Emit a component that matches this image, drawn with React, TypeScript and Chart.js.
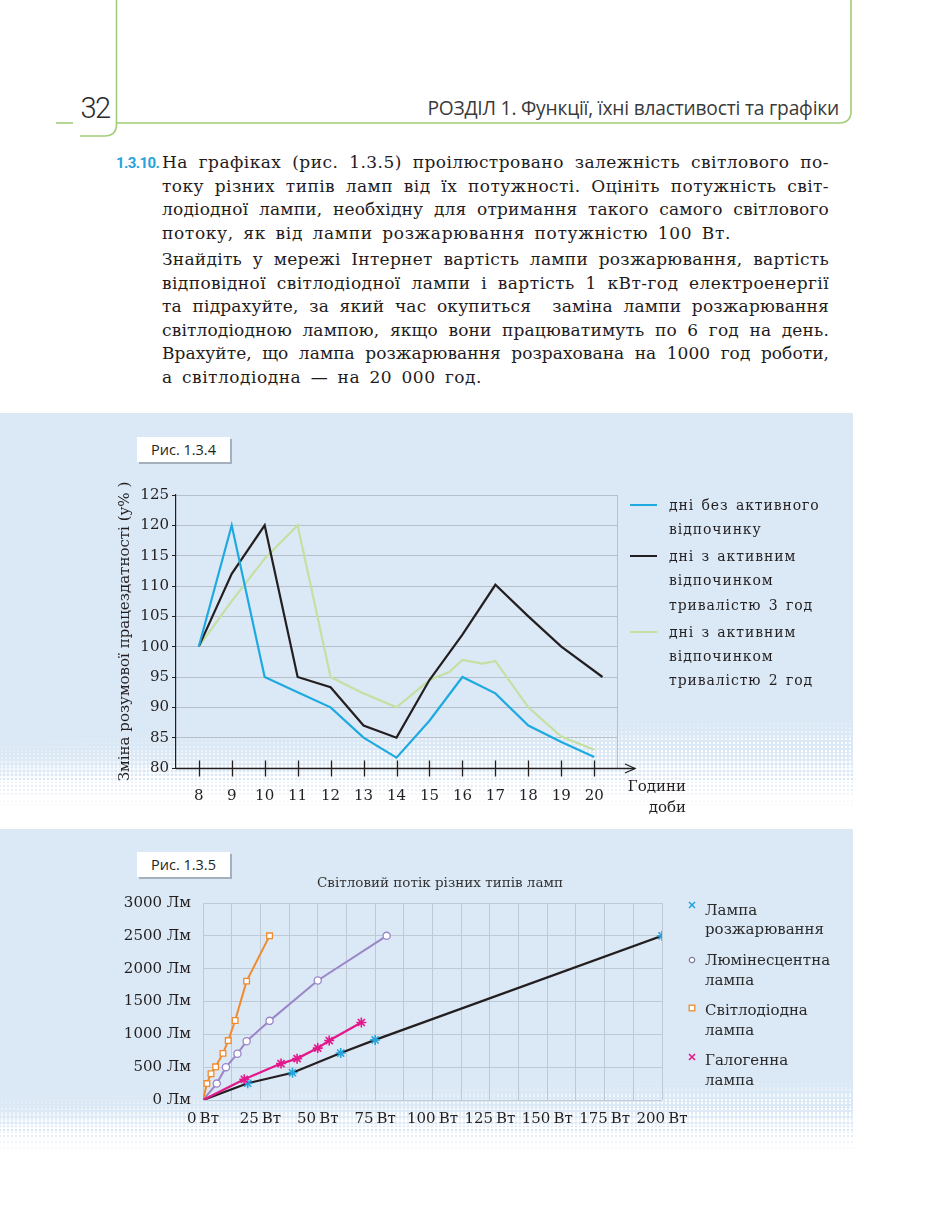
import React, { useEffect, useLayoutEffect, useRef, useState } from "react";
import { Chart, registerables } from "chart.js";

Chart.register(...registerables);

// ---------- Рис. 1.3.4 data ----------
const hourTicks = [8, 9, 10, 11, 12, 13, 14, 15, 16, 17, 18, 19, 20];
const noRestHours = [8, 9, 10, 11, 12, 13, 14, 15, 16, 17, 18, 19, 20];
const noRestValues = [100, 120, 95, 92.5, 90, 85, 81.7, 87.8, 95, 92.3, 87, 84.3, 81.8];
const rest3Hours = [8, 9, 10, 11, 12, 13, 14, 15, 16, 17, 18, 19, 20.25];
const rest3Values = [100, 112, 120, 95, 93.3, 87, 85, 94.5, 102, 110.2, 105, 100, 95];
const rest2Hours = [8, 9, 10, 11, 12, 13, 14, 15, 15.6, 16, 16.6, 17, 18, 19, 20];
const rest2Values = [100, 107.5, 114.5, 120, 95, 92.3, 90, 94.5, 95.8, 97.8, 97.2, 97.6, 90, 85.2, 83];
const fig4Legend = [
  ["дні без активного", "відпочинку"],
  ["дні з активним", "відпочинком", "тривалістю 3 год"],
  ["дні з активним", "відпочинком", "тривалістю 2 год"],
];
const fig4YTitle = "Зміна розумової працездатності (у% )";

// ---------- Рис. 1.3.5 data ----------
const incandescentW = [0, 19.5, 39, 60, 75, 200];
const incandescentLm = [0, 255, 415, 715, 915, 2500];
const fluorescentW = [0, 6, 10, 15, 19, 29, 50, 80];
const fluorescentLm = [0, 250, 500, 705, 895, 1205, 1820, 2500];
const ledW = [0, 1.7, 3.5, 5.5, 8.7, 11, 14, 19, 29];
const ledLm = [0, 250, 400, 505, 710, 905, 1210, 1810, 2500];
const halogenW = [0, 18, 34, 41, 50, 55, 69];
const halogenLm = [0, 315, 555, 630, 790, 905, 1180];
const fig5Legend = [
  ["Лампа", "розжарювання"],
  ["Люмінесцентна", "лампа"],
  ["Світлодіодна", "лампа"],
  ["Галогенна", "лампа"],
];
const fig5Title = "Світловий потік різних типів ламп";

const textLines = [
  "На графіках (рис. 1.3.5) проілюстровано залежність світлового по-",
  "току різних типів ламп від їх потужності. Оцініть потужність світ-",
  "лодіодної лампи, необхідну для отримання такого самого світлового",
  "потоку, як від лампи розжарювання потужністю 100 Вт.",
  "Знайдіть у мережі Інтернет вартість лампи розжарювання, вартість",
  "відповідної світлодіодної лампи і вартість 1 кВт-год електроенергії",
  "та підрахуйте, за який час окупиться  заміна лампи розжарювання",
  "світлодіодною лампою, якщо вони працюватимуть по 6 год на день.",
  "Врахуйте, що лампа розжарювання розрахована на 1000 год роботи,",
  "а світлодіодна — на 20 000 год.",
];
const lineCenters = [163, 186.5, 210, 233.5, 260, 283.5, 307, 330.5, 354, 377.5];
const justified = [true, true, true, false, true, true, true, true, true, false];
const lineTargets = [667, 667, 667, 569, 667, 667, 667, 667, 667, 320];

const SERIF = "'DejaVu Serif', 'Liberation Serif', serif";
const SANS = "'Open Sans', 'Noto Sans', sans-serif";
const INK = "#231f20";
const PANEL = "rgb(219,232,245)";
const GRID1 = "rgb(182,192,203)";
const GRID2 = "rgb(190,201,214)";
const BLUE = "#1eaae1";
const GREEN_L = "#c4e0a2";
const PURPLE = "#9a86c8";
const ORANGE = "#f08a2d";
const MAGENTA = "#e3188c";
const MARK_BLUE = "#27a4dc";
const TEXT_W = 667;

function Halftone({ top, height, angle }: { top: number; height: number; angle: number }) {
  const bands = 14;
  const items = [];
  for (let i = 0; i < bands; i++) {
    const r = 0.3 + (i / (bands - 1)) * 2.15;
    items.push(
      <div
        key={i}
        style={{
          position: "absolute",
          left: 0,
          right: 0,
          top: (i * height) / bands,
          height: height / bands + 0.6,
          backgroundImage: `radial-gradient(circle, #ffffff ${r}px, rgba(255,255,255,0) ${r + 0.7}px)`,
          backgroundSize: "4px 4px",
        }}
      />
    );
  }
  const mask = `linear-gradient(${angle}deg, transparent 0%, transparent 12%, #000 40%)`;
  return (
    <div
      style={{
        position: "absolute",
        left: 0,
        width: 853,
        top,
        height,
        overflow: "hidden",
        WebkitMaskImage: mask,
        maskImage: mask,
      }}
    >
      {items}
    </div>
  );
}

function FigLabel({ left, top, text }: { left: number; top: number; text: string }) {
  return (
    <div
      style={{
        position: "absolute",
        left,
        top,
        width: 93,
        height: 25,
        background: "#fff",
        boxShadow: "2px 2px 0 rgba(120,130,140,0.55)",
        fontFamily: SANS,
        fontSize: 14.5,
        color: INK,
        lineHeight: "25px",
        textAlign: "center",
      }}
    >
      {text}
    </div>
  );
}

function Paragraph() {
  const refs = useRef<(HTMLSpanElement | null)[]>([]);
  const [ls, setLs] = useState<number[] | null>(null);
  useLayoutEffect(() => {
    const widths = refs.current.map((el) => (el ? el.getBoundingClientRect().width : 0));
    const per = textLines.map((t, i) => {
      const spaces = (t.match(/ /g) || []).length;
      const slack = justified[i] ? spaces * 1.5 : 0;
      const v = (lineTargets[i] - slack - widths[i]) / t.length;
      return Math.max(-1.2, Math.min(2.5, v));
    });
    setLs(per);
  }, []);
  return (
    <>
      {textLines.map((t, i) => {
        const just = ls ? justified[i] : false;
        return (
          <div
            key={i}
            style={{
              position: "absolute",
              left: 162,
              width: TEXT_W,
              top: lineCenters[i] - 13,
              height: 24,
              fontFamily: SERIF,
              fontSize: 17,
              lineHeight: "24px",
              whiteSpace: "pre",
              wordSpacing: 3.5,
              textAlign: just ? "justify" : "left",
              textAlignLast: just ? "justify" : "left",
              letterSpacing: ls ? ls[i] : 0,
              color: "#1f1b1c",
            }}
          >
            {ls ? (
              t
            ) : (
              <span
                ref={(el) => {
                  refs.current[i] = el;
                }}
              >
                {t}
              </span>
            )}
          </div>
        );
      })}
    </>
  );
}

function Chart1() {
  const ref = useRef<HTMLCanvasElement>(null);
  useEffect(() => {
    const decor = {
      id: "axisDecor",
      afterDraw(chart: any) {
        const { ctx, chartArea: a, scales } = chart;
        const xs = scales.x;
        ctx.save();
        const rx = Math.round(a.right) + 0.5;
        ctx.strokeStyle = GRID1;
        ctx.lineWidth = 1;
        ctx.beginPath();
        ctx.moveTo(rx, a.top);
        ctx.lineTo(rx, a.bottom);
        ctx.stroke();
        const yb = Math.round(a.bottom) + 0.5;
        ctx.strokeStyle = INK;
        ctx.lineWidth = 1.3;
        ctx.beginPath();
        ctx.moveTo(a.left, yb);
        ctx.lineTo(a.right + 18, yb);
        ctx.stroke();
        ctx.beginPath();
        ctx.moveTo(a.right + 8, yb - 4.5);
        ctx.lineTo(a.right + 18, yb);
        ctx.lineTo(a.right + 8, yb + 4.5);
        ctx.stroke();
        for (const h of hourTicks) {
          const px = Math.round(xs.getPixelForValue(h)) + 0.5;
          ctx.beginPath();
          ctx.moveTo(px, yb - 8);
          ctx.lineTo(px, yb + 8);
          ctx.stroke();
        }
        ctx.restore();
      },
    };
    const mk = (xs: number[], ys: number[]) => xs.map((x, i) => ({ x, y: ys[i] }));
    const chart = new Chart(ref.current as HTMLCanvasElement, {
      type: "line",
      data: {
        datasets: [
          { label: fig4Legend[0].join(" "), data: mk(noRestHours, noRestValues), borderColor: BLUE, borderWidth: 2.2, pointRadius: 0, tension: 0 },
          { label: fig4Legend[1].join(" "), data: mk(rest3Hours, rest3Values), borderColor: INK, borderWidth: 2.2, pointRadius: 0, tension: 0 },
          { label: fig4Legend[2].join(" "), data: mk(rest2Hours, rest2Values), borderColor: GREEN_L, borderWidth: 2.2, pointRadius: 0, tension: 0, order: 5 },
        ],
      },
      options: {
        animation: false,
        responsive: false,
        maintainAspectRatio: false,
        layout: { padding: { top: 15, right: 83, left: 0, bottom: 0 } },
        plugins: { legend: { display: false }, tooltip: { enabled: false }, title: { display: false } },
        scales: {
          x: {
            type: "linear",
            min: 7.31,
            max: 20.69,
            afterBuildTicks: (s: any) => {
              s.ticks = hourTicks.map((v) => ({ value: v }));
            },
            afterFit: (s: any) => {
              s.height = 52;
            },
            grid: { display: false },
            border: { display: false },
            ticks: {
              font: { family: SERIF, size: 15 },
              color: INK,
              padding: 11,
              maxRotation: 0,
              autoSkip: false,
              callback: (v: any) => String(v),
            },
          },
          y: {
            min: 80,
            max: 125,
            ticks: { stepSize: 5, font: { family: SERIF, size: 15 }, color: INK, padding: 3 },
            grid: { color: GRID1, tickColor: INK, tickLength: 4 },
            border: { color: INK, width: 1.2 },
            afterFit: (s: any) => {
              s.width = 76;
            },
            title: {
              display: true,
              text: fig4YTitle,
              font: { family: SERIF, size: 15 },
              color: INK,
              padding: { top: 16, bottom: 0 },
            },
          },
        },
      },
      plugins: [decor],
    } as any);
    return () => chart.destroy();
  }, []);
  return (
    <canvas
      ref={ref}
      width={600}
      height={340}
      style={{ position: "absolute", left: 100, top: 480, width: 600, height: 340 }}
    />
  );
}

function Chart2() {
  const ref = useRef<HTMLCanvasElement>(null);
  useEffect(() => {
    const mk = (xs: number[], ys: number[]) => xs.map((x, i) => ({ x, y: ys[i] }));
    const radii = (n: number, r: number) => Array.from({ length: n }, (_, i) => (i === 0 ? 0 : r));
    const chart = new Chart(ref.current as HTMLCanvasElement, {
      type: "line",
      data: {
        datasets: [
          {
            label: fig5Legend[0].join(" "),
            data: mk(incandescentW, incandescentLm),
            borderColor: INK,
            borderWidth: 2.3,
            pointStyle: "star",
            pointRadius: radii(incandescentW.length, 5),
            pointBorderColor: MARK_BLUE,
            pointBorderWidth: 1.6,
            pointBackgroundColor: MARK_BLUE,
            order: 4,
          },
          {
            label: fig5Legend[1].join(" "),
            data: mk(fluorescentW, fluorescentLm),
            borderColor: PURPLE,
            borderWidth: 2,
            pointStyle: "circle",
            pointRadius: radii(fluorescentW.length, 3.6),
            pointBorderColor: PURPLE,
            pointBorderWidth: 1.3,
            pointBackgroundColor: "#ffffff",
            order: 3,
          },
          {
            label: fig5Legend[2].join(" "),
            data: mk(ledW, ledLm),
            borderColor: ORANGE,
            borderWidth: 2,
            pointStyle: "rect",
            pointRadius: radii(ledW.length, 4),
            pointBorderColor: ORANGE,
            pointBorderWidth: 1.3,
            pointBackgroundColor: "#ffffff",
            order: 2,
          },
          {
            label: fig5Legend[3].join(" "),
            data: mk(halogenW, halogenLm),
            borderColor: MAGENTA,
            borderWidth: 2.3,
            pointStyle: "star",
            pointRadius: radii(halogenW.length, 5),
            pointBorderColor: MAGENTA,
            pointBorderWidth: 1.6,
            pointBackgroundColor: MAGENTA,
            order: 1,
          },
        ],
      },
      options: {
        animation: false,
        responsive: false,
        maintainAspectRatio: false,
        layout: { padding: { top: 23, right: 38, left: 0, bottom: 0 } },
        plugins: { legend: { display: false }, tooltip: { enabled: false }, title: { display: false } },
        scales: {
          x: {
            type: "linear",
            min: 0,
            max: 200,
            ticks: {
              stepSize: 12.5,
              autoSkip: false,
              maxRotation: 0,
              font: { family: SERIF, size: 15 },
              color: INK,
              padding: 10,
              callback: (v: any) => (Number(v) % 25 === 0 ? `${v}\u2009Вт` : ""),
            },
            grid: { color: GRID2, drawTicks: false },
            border: { display: false },
            afterFit: (s: any) => {
              s.height = 40;
            },
          },
          y: {
            min: 0,
            max: 3000,
            ticks: {
              stepSize: 500,
              font: { family: SERIF, size: 15 },
              color: INK,
              padding: 12,
              callback: (v: any) => `${v} Лм`,
            },
            grid: { color: GRID2, drawTicks: false },
            border: { display: false },
            afterFit: (s: any) => {
              s.width = 103;
            },
          },
        },
      },
    } as any);
    return () => chart.destroy();
  }, []);
  return (
    <canvas
      ref={ref}
      width={600}
      height={260}
      style={{ position: "absolute", left: 100, top: 880, width: 600, height: 260 }}
    />
  );
}

function Marker({ kind, color }: { kind: string; color: string }) {
  return (
    <svg width={8} height={8} viewBox="0 0 8 8" style={{ display: "block" }}>
      {kind === "x" && (
        <g stroke={color} strokeWidth={1.6}>
          <line x1={1} y1={1} x2={7} y2={7} />
          <line x1={7} y1={1} x2={1} y2={7} />
        </g>
      )}
      {kind === "o" && <circle cx={4} cy={4} r={2.7} fill="#fff" stroke={color} strokeWidth={1.2} />}
      {kind === "s" && <rect x={1.2} y={1.2} width={5.6} height={5.6} fill="#fff" stroke={color} strokeWidth={1.3} />}
    </svg>
  );
}

export default function App() {
  const fig4Rows = [
    { lines: fig4Legend[0], color: BLUE, y: [505, 529] },
    { lines: fig4Legend[1], color: INK, y: [556, 580, 605] },
    { lines: fig4Legend[2], color: GREEN_L, y: [632, 656, 680] },
  ];
  const fig5Rows = [
    { lines: fig5Legend[0], kind: "x", color: MARK_BLUE, y: [910, 929], my: 905 },
    { lines: fig5Legend[1], kind: "o", color: "#7f7a99", y: [960, 980], my: 960 },
    { lines: fig5Legend[2], kind: "s", color: ORANGE, y: [1010, 1030], my: 1008 },
    { lines: fig5Legend[3], kind: "x", color: MAGENTA, y: [1060, 1080], my: 1057 },
  ];
  return (
    <div
      style={{
        position: "absolute",
        left: 0,
        top: 0,
        width: 934,
        height: 1218,
        overflow: "hidden",
        background: "#fff",
        color: INK,
      }}
    >
      {/* header lines */}
      <svg width={934} height={150} style={{ position: "absolute", left: 0, top: 0 }}>
        <g fill="none" stroke="#a3cd78" strokeWidth={1.6}>
          <line x1={56} y1={123} x2={73} y2={123} />
          <path d="M116.5 0 V124 Q116.5 136 104.5 136 H80" />
          <path d="M116.5 123 H839 Q851 123 851 111 V0" />
        </g>
      </svg>
      <div
        style={{
          position: "absolute",
          left: 80,
          top: 90,
          width: 30,
          fontFamily: "'Liberation Sans Narrow', 'Roboto', sans-serif",
          fontSize: 29,
          fontWeight: 300,
          lineHeight: "36px",
          letterSpacing: -1.5,
          textAlign: "center",
          color: "#2b2b2b",
        }}
      >
        32
      </div>
      <div
        style={{
          position: "absolute",
          right: 934 - 839,
          top: 95,
          fontFamily: SANS,
          fontSize: 19.2,
          lineHeight: "26px",
          color: "#3a3a3a",
          whiteSpace: "nowrap",
          letterSpacing: -0.2,
        }}
      >
        РОЗДІЛ 1. Функції, їхні властивості та графіки
      </div>

      {/* exercise text */}
      <div
        style={{
          position: "absolute",
          left: 116,
          top: lineCenters[0] - 12,
          fontFamily: "'Liberation Sans Narrow', 'Roboto', sans-serif",
          fontWeight: 700,
          fontSize: 15,
          lineHeight: "24px",
          color: "#27a2da",
          letterSpacing: -0.6,
        }}
      >
        1.3.10.
      </div>
      <Paragraph />

      {/* panel 1 */}
      <div style={{ position: "absolute", left: 0, top: 413, width: 853, height: 414, background: PANEL }} />
      <Halftone top={722} height={105} angle={177} />
      {/* panel 2 */}
      <div style={{ position: "absolute", left: 0, top: 829, width: 853, height: 268, background: PANEL }} />
      <div style={{ position: "absolute", left: 0, top: 1097, width: 853, height: 70, background: PANEL }} />
      <Halftone top={1082} height={87} angle={178} />

      <FigLabel left={137} top={437} text="Рис. 1.3.4" />
      <FigLabel left={137} top={852} text="Рис. 1.3.5" />

      <Chart1 />
      <Chart2 />

      {/* fig 1.3.4 legend */}
      {fig4Rows.map((r, k) => (
        <React.Fragment key={k}>
          <div
            style={{ position: "absolute", left: 630, top: r.y[0] - 1.2, width: 27, height: 2.4, background: r.color }}
          />
          {r.lines.map((l, j) => (
            <div
              key={j}
              style={{
                position: "absolute",
                left: 669,
                top: r.y[j] - 12,
                height: 24,
                lineHeight: "24px",
                fontFamily: SERIF,
                fontSize: 14,
                letterSpacing: 0.9,
                wordSpacing: 2,
                whiteSpace: "nowrap",
                color: INK,
              }}
            >
              {l}
            </div>
          ))}
        </React.Fragment>
      ))}
      <div
        style={{
          position: "absolute",
          left: 600,
          width: 86,
          top: 776,
          fontFamily: SERIF,
          fontSize: 15,
          lineHeight: "21px",
          textAlign: "right",
          color: INK,
        }}
      >
        Години
        <br />
        доби
      </div>

      {/* fig 1.3.5 title */}
      <div
        style={{
          position: "absolute",
          left: 300,
          width: 280,
          top: 872,
          textAlign: "center",
          fontFamily: SERIF,
          fontSize: 13.5,
          lineHeight: "20px",
          color: "#333",
          whiteSpace: "nowrap",
        }}
      >
        {fig5Title}
      </div>

      {/* fig 1.3.5 legend */}
      {fig5Rows.map((r, k) => (
        <React.Fragment key={k}>
          <div style={{ position: "absolute", left: 688, top: r.my - 4 }}>
            <Marker kind={r.kind} color={r.color} />
          </div>
          {r.lines.map((l, j) => (
            <div
              key={j}
              style={{
                position: "absolute",
                left: 705,
                top: r.y[j] - 12,
                height: 24,
                lineHeight: "24px",
                fontFamily: SERIF,
                fontSize: 15,
                whiteSpace: "nowrap",
                color: "#2a2a2a",
              }}
            >
              {l}
            </div>
          ))}
        </React.Fragment>
      ))}
    </div>
  );
}
